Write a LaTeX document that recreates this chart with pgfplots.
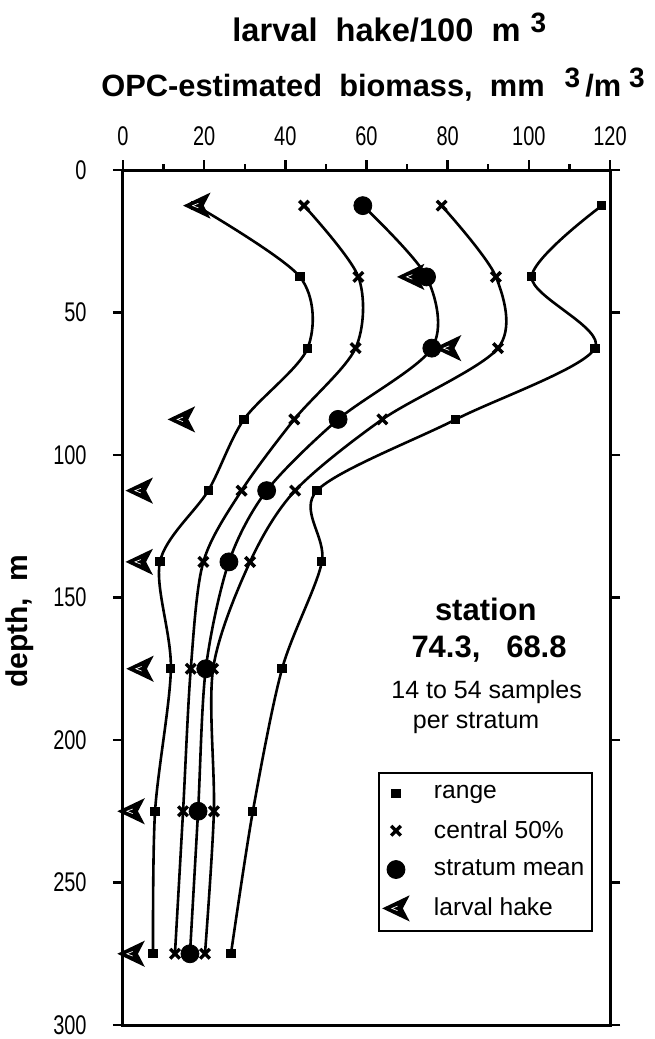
\documentclass[border=0pt]{standalone}
\usepackage{fontspec}
\setmainfont{Liberation Sans}
\usepackage{graphicx}
\usepackage{pgfplots}
\usepackage{pgfplotstable}
\pgfplotsset{compat=1.18}

\pgfdeclareplotmark{hake}{%
  \pgfpathmoveto{\pgfqpoint{-1.1\pgfplotmarksize}{0pt}}%
  \pgfpathlineto{\pgfqpoint{1.1\pgfplotmarksize}{1.05\pgfplotmarksize}}%
  \pgfpathlineto{\pgfqpoint{0.55\pgfplotmarksize}{0pt}}%
  \pgfpathlineto{\pgfqpoint{1.1\pgfplotmarksize}{-1.05\pgfplotmarksize}}%
  \pgfpathclose
  \pgfusepathqfillstroke
  \begin{pgfscope}%
    \pgfsetstrokecolor{white}%
    \pgfsetlinewidth{0.35pt}%
    \pgfpathmoveto{\pgfqpoint{0.15\pgfplotmarksize}{0.22\pgfplotmarksize}}%
    \pgfpathlineto{\pgfqpoint{-0.4\pgfplotmarksize}{0pt}}%
    \pgfpathlineto{\pgfqpoint{0.15\pgfplotmarksize}{-0.22\pgfplotmarksize}}%
    \pgfusepathqstroke
  \end{pgfscope}%
}

\pgfplotstableread{
depth rmin clo  mean chi  rmax  hake
12.5  18   44.6 59.1 78.5 118   18.2
37.5  43.6 58   74.8 91.9 100.7 70.9
62.5  45.5 57.3 76.1 92.4 116.3 80
87.5  29.8 42.2 53   63.9 82    14.4
112.5 21   29.2 35.4 42.4 47.8  4
137.5 9.1  19.8 26.1 31.3 49    4
175   11.8 16.7 20.4 22.2 39.2  4.2
225   7.9  14.8 18.5 22.4 32    2
275   7.4  12.8 16.5 20.2 26.6  2
}\data

\newcommand{\tickfont}{\fontsize{13.5}{16}\selectfont}
\newcommand{\supthree}{\raisebox{4.3pt}{\fontsize{14}{14}\selectfont 3}}

\begin{document}
\begin{tikzpicture}
\useasboundingbox (-61.5pt,-7pt) rectangle (265.5pt,512.5pt);
\begin{axis}[
  at={(0,0)}, anchor=south west,
  scale only axis, width=243.5pt, height=427.5pt,
  xmin=0, xmax=120, ymin=0, ymax=300, y dir=reverse,
  xtick={0,20,...,120}, minor xtick={10,30,...,110},
  ytick={0,50,...,300},
  xtick pos=right, xticklabel pos=right,
  ytick pos=both, yticklabel pos=left,
  tick align=outside,
  major tick length=5pt, minor tick length=3pt,
  axis line style={line width=1.5pt},
  every tick/.style={black, line width=1.2pt},
  xticklabel={\tickfont\scalebox{0.74}[1]{\pgfmathprintnumber[assume math mode=true]{\tick}}},
  yticklabel={\tickfont\scalebox{0.74}[1]{\pgfmathprintnumber[assume math mode=true]{\tick}}},
  xticklabel style={anchor=base, inner sep=0pt, yshift=7.5pt},
  yticklabel style={anchor=east, inner sep=0pt, xshift=-13pt},
  legend cell align=left,
  legend image code/.code={\path[draw=none] (0pt,0pt) rectangle (12.5pt,0pt); \path[#1, draw=none] plot coordinates {(6.5pt,0pt)};},
  legend style={at={(0.5236,0.2959)}, anchor=north west, draw=black, line width=1pt,
    font=\fontsize{12.3}{14}\selectfont, row sep=5.5pt, inner xsep=2pt, inner ysep=4pt,
    /tikz/every odd column/.append style={column sep=11pt}},
]
% curves
\addplot[smooth, line width=1.3pt, forget plot] table[x=rmin, y=depth]{\data};
\addplot[smooth, line width=1.3pt, forget plot] table[x=clo, y=depth]{\data};
\addplot[smooth, line width=1.3pt, forget plot] table[x=mean, y=depth]{\data};
\addplot[smooth, line width=1.3pt, forget plot] table[x=chi, y=depth]{\data};
\addplot[smooth, line width=1.3pt, forget plot] table[x=rmax, y=depth]{\data};
% markers
\addplot[only marks, mark=square*, mark size=2pt, mark options={line width=0.6pt, fill=black, draw=black}] table[x=rmin, y=depth]{\data};
\addlegendentry{range}
\addplot[only marks, mark=square*, mark size=2pt, mark options={line width=0.6pt, fill=black, draw=black}, forget plot] table[x=rmax, y=depth]{\data};
\addplot[only marks, mark=x, mark size=3.4pt, mark options={line width=1.7pt, draw=black}] table[x=clo, y=depth]{\data};
\addlegendentry{central 50\%}
\addplot[only marks, mark=x, mark size=3.4pt, mark options={line width=1.7pt, draw=black}, forget plot] table[x=chi, y=depth]{\data};
\addplot[only marks, mark=*, mark size=4.5pt, mark options={line width=0.4pt, fill=black, draw=black}] table[x=mean, y=depth]{\data};
\addlegendentry{stratum mean}
\addplot[only marks, mark=hake, mark size=5.2pt, mark options={line width=1pt, fill=black, draw=black}] table[x=hake, y=depth]{\data};
\addlegendentry{larval hake}

\node[anchor=base, font=\bfseries\fontsize{15.5}{18}\selectfont] at (axis cs:89.4,158.1) {station};
\node[anchor=base, font=\bfseries\fontsize{15.5}{18}\selectfont] at (axis cs:90.2,171) {74.3,\ \ \ 68.8};
\node[anchor=base, font=\fontsize{12.5}{14}\selectfont] at (axis cs:89.6,185.6) {14 to 54 samples};
\node[anchor=base, font=\fontsize{12.5}{14}\selectfont] at (axis cs:87,196) {per stratum};
\end{axis}
\node[anchor=base west, inner sep=0pt, font=\bfseries\fontsize{16.3}{18}\selectfont] at (54.5pt,491.7pt)
  {larval\ \ hake/100\ \ m\hspace{5pt}\supthree};
\node[anchor=base west, inner sep=0pt, font=\bfseries\fontsize{15.4}{18}\selectfont] at (-11pt,464.2pt)
  {OPC-estimated\ \ biomass,\ \ mm\hspace{10pt}\supthree\hspace{2.5pt}/m\hspace{4pt}\supthree};
\node[rotate=90, font=\bfseries\fontsize{15}{18}\selectfont] at (-51.5pt,202pt) {depth,\ \ m};
\end{tikzpicture}
\end{document}
